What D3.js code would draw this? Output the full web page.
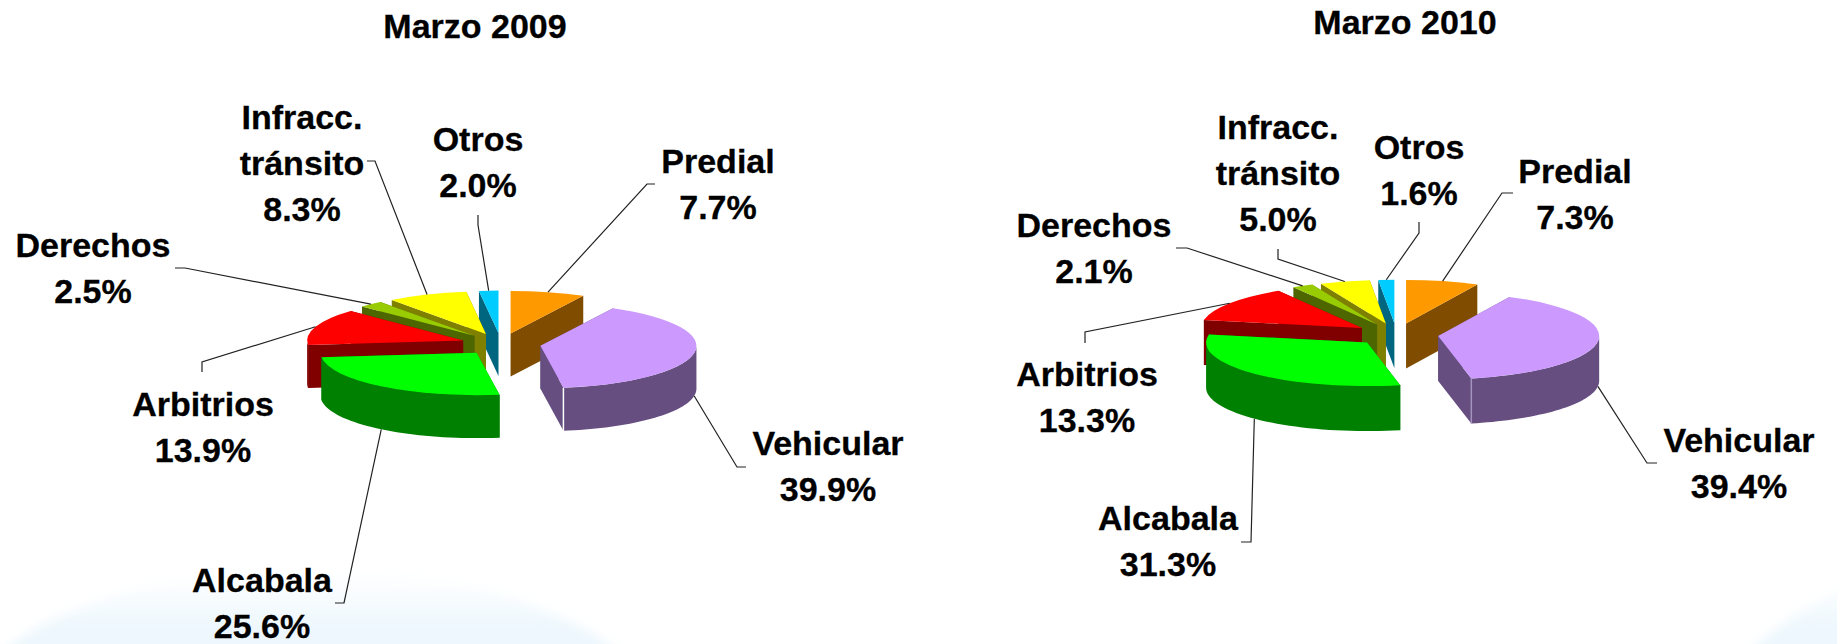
<!DOCTYPE html>
<html>
<head>
<meta charset="utf-8">
<script src="https://cdn.jsdelivr.net/npm/d3@7"></script>
<style>
  html, body { margin: 0; padding: 0; background: #fff; }
  svg { display: block; }
  text { font-family: "Liberation Sans", Arial, sans-serif; font-weight: bold; font-size: 34px; fill: #000; stroke: #000; stroke-width: 0.3px; text-anchor: middle; }
</style>
</head>
<body>
<svg id="chart"></svg>
<script>
// chart values
var categories = ["Predial", "Vehicular", "Alcabala", "Arbitrios", "Derechos", "Infracc. tránsito", "Otros"];
var values2009 = [7.7, 39.9, 25.6, 13.9, 2.5, 8.3, 2.0];
var values2010 = [7.3, 39.4, 31.3, 13.3, 2.1, 5.0, 1.6];

// slice colours, same order as categories
var topColors = ["#ff9900", "#cc99ff", "#00ff00", "#ff0000", "#99cc00", "#ffff00", "#00ccff"];
var sideColors = ["#804c00", "#664e80", "#008000", "#800000", "#4d6600", "#808000", "#006680"];

// where the labels sit: x, first baseline, then leader elbow (start, bend)
var layout2009 = [
  { x: 718, y: 173, line: [[655, 184], [647, 184]] },
  { x: 828, y: 455, line: [[746, 467], [737, 467]] },
  { x: 262, y: 592, line: [[335, 603], [344, 603]] },
  { x: 203, y: 416, line: [[202, 372], [202, 362]] },
  { x: 93, y: 257, line: [[175, 268], [185, 268]] },
  { x: 302, y: 129, line: [[367, 161], [375, 161]] },
  { x: 478, y: 151, line: [[478, 215], [478, 225]] }
];
var layout2010 = [
  { x: 1575, y: 183, line: [[1513, 193], [1502, 193]] },
  { x: 1739, y: 452, line: [[1657, 463], [1647, 463]] },
  { x: 1168, y: 530, line: [[1241, 542], [1251, 542]] },
  { x: 1087, y: 386, line: [[1085, 343], [1085, 332]] },
  { x: 1094, y: 237, line: [[1176, 248], [1187, 248]] },
  { x: 1278, y: 139, line: [[1278, 249], [1278, 259]] },
  { x: 1419, y: 159, line: [[1419, 222], [1419, 233]] }
];

var width = 1837, height = 644;

var svg = d3.select("svg#chart")
  .attr("width", width)
  .attr("height", height);

// faint blue shapes of the slide behind the charts
var defs = svg.append("defs");
var grad = defs.append("linearGradient")
  .attr("id", "bgFade")
  .attr("gradientUnits", "userSpaceOnUse")
  .attr("x1", 0).attr("x2", 0)
  .attr("y1", 572).attr("y2", 630);
grad.append("stop").attr("offset", 0).attr("stop-color", "#ffffff");
grad.append("stop").attr("offset", 1).attr("stop-color", "#edf7fd");
defs.append("filter").attr("id", "soft")
  .append("feGaussianBlur").attr("stdDeviation", 6);

svg.append("ellipse")
  .attr("cx", 310).attr("cy", 720)
  .attr("rx", 345).attr("ry", 150)
  .attr("fill", "url(#bgFade)")
  .attr("filter", "url(#soft)");
svg.append("circle")
  .attr("cx", 1962).attr("cy", 865)
  .attr("r", 300)
  .attr("fill", "url(#bgFade)")
  .attr("filter", "url(#soft)");

function renderPie(opts) {
  var rx = opts.rx, ry = opts.ry, depth = opts.depth, tilt = ry / rx;

  var pie = d3.pie().sort(null).startAngle(0).endAngle(2 * Math.PI);
  var arc = d3.arc().innerRadius(0).outerRadius(rx);

  var slices = pie(opts.values).map(function (d, i) {
    var mid = (d.startAngle + d.endAngle) / 2;
    return {
      arc: d,
      index: i,
      mid: mid,
      ox: opts.cx + opts.explode * Math.sin(mid),
      oy: opts.cy - opts.explode * Math.cos(mid) * tilt
    };
  });

  // point on the rim of a slice
  function rim(s, a, drop) {
    return [s.ox + rx * Math.sin(a), s.oy - ry * Math.cos(a) + (drop || 0)];
  }

  // walls of a slice: two cut faces, and the curved outside where it faces us
  function sidePaths(s) {
    var line = d3.line();
    var a0 = rim(s, s.arc.startAngle), a1 = rim(s, s.arc.endAngle);
    var paths = [
      line([[s.ox, s.oy], a0, [a0[0], a0[1] + depth], [s.ox, s.oy + depth]]) + "Z",
      line([[s.ox, s.oy], a1, [a1[0], a1[1] + depth], [s.ox, s.oy + depth]]) + "Z"
    ];
    var lo = Math.max(s.arc.startAngle, Math.PI / 2);
    var hi = Math.min(s.arc.endAngle, 3 * Math.PI / 2);
    if (lo < hi) {
      var n = 40;
      var angles = d3.range(n + 1).map(function (k) { return lo + (hi - lo) * k / n; });
      var upper = angles.map(function (a) { return rim(s, a); });
      var lower = angles.slice().reverse().map(function (a) { return rim(s, a, depth); });
      paths.push(line(upper.concat(lower)) + "Z");
    }
    return paths;
  }

  var g = svg.append("g");

  // back slices first
  var ordered = slices.slice().sort(function (a, b) { return d3.ascending(a.oy, b.oy); });
  ordered.forEach(function (s) {
    sidePaths(s).forEach(function (p) {
      g.append("path")
        .attr("d", p)
        .attr("fill", sideColors[s.index]);
    });

    if (s.index === 1) {
      var c = rim(s, s.arc.endAngle);
      g.append("line")
        .attr("x1", c[0]).attr("y1", c[1])
        .attr("x2", c[0]).attr("y2", c[1] + depth)
        .attr("stroke", opts.cornerColor)
        .attr("stroke-width", 1.5);
    }

    g.append("path")
      .attr("d", arc(s.arc))
      .attr("transform", "translate(" + s.ox + "," + s.oy + ") scale(1," + tilt + ")")
      .attr("fill", topColors[s.index]);
  });

  // leader lines end on the rim at the middle of the slice
  slices.forEach(function (s) {
    var front = Math.cos(s.mid) < 0;
    var end = rim(s, s.mid, front ? depth : 0);
    g.append("path")
      .attr("d", d3.line()(opts.layout[s.index].line.concat([end])))
      .attr("fill", "none")
      .attr("stroke", "#222")
      .attr("stroke-width", 1.2);
  });

  // labels
  slices.forEach(function (s) {
    var pos = opts.layout[s.index];
    var lines = categories[s.index].split(" ");
    lines.push(d3.format(".1f")(opts.values[s.index]) + "%");
    var t = g.append("g");
    lines.forEach(function (l, k) {
      t.append("text")
        .attr("x", pos.x)
        .attr("y", pos.y + k * 46)
        .text(l);
    });
  });

  svg.append("text")
    .attr("x", opts.titleX)
    .attr("y", opts.titleY)
    .text(opts.title);
}

renderPie({
  title: "Marzo 2009", titleX: 475, titleY: 38,
  values: values2009, layout: layout2009,
  cx: 501, cy: 344, rx: 156, ry: 42.5, depth: 43, explode: 40,
  cornerColor: "#ffffff"
});

renderPie({
  title: "Marzo 2010", titleX: 1405, titleY: 34,
  values: values2010, layout: layout2010,
  cx: 1396.5, cy: 334.5, rx: 161, ry: 43.5, depth: 45, explode: 42,
  cornerColor: "#a593bf"
});
</script>
</body>
</html>
